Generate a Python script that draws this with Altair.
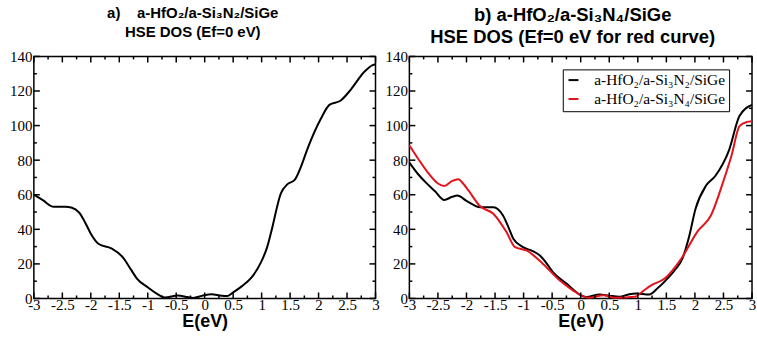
import altair as alt
import pandas as pd

# Panel a: total DOS of a-HfO2/a-Si3N2/SiGe (HSE), energies in eV
E_A = [-3.0, -2.85, -2.65, -2.45, -2.33, -2.2, -2.1, -2.0, -1.86, -1.64, -1.43,
       -1.3, -1.19, -1.0, -0.85, -0.7, -0.47, -0.3, -0.2, -0.05, 0.12, 0.3, 0.4,
       0.5, 0.65, 0.82, 0.99, 1.1, 1.17, 1.34, 1.45, 1.58, 1.7, 1.81, 2.04, 2.19,
       2.39, 2.57, 2.8, 2.95, 3.0]
DOS_A = [60, 57, 53, 53, 52.5, 49.5, 44, 37.5, 31.5, 29, 23.5,
         17, 11.5, 6.5, 3, 0.6, 1.7, 0.8, 0.3, 1.5, 2.5, 1.6, 1.5,
         3.5, 7, 12, 21, 30, 38.7, 61, 66, 68.6, 77, 87, 104, 112,
         114.5, 121, 131, 135, 135.5]

# Panel b: Si3N2 interlayer (black) and Si3N4 interlayer (red)
E_N2 = [-3.0, -2.85, -2.71, -2.55, -2.39, -2.25, -2.16, -2.0, -1.76, -1.53, -1.36,
        -1.25, -1.18, -1.01, -0.85, -0.72, -0.6, -0.49, -0.25, 0.0, 0.1, 0.33, 0.5,
        0.68, 0.85, 0.97, 1.2, 1.35, 1.49, 1.65, 1.78, 1.9, 2.01, 2.19, 2.36, 2.6,
        2.78, 3.0]
DOS_N2 = [78.6, 72, 67, 62, 57, 58.8, 59.5, 56.5, 52.8, 52.8, 48,
          40, 34.5, 29.7, 27.5, 25, 20.5, 15.4, 8.6, 1.9, 0.8, 2.3, 1.6,
          1, 2.5, 2.9, 2.3, 6, 10.5, 16.5, 23, 36, 51.8, 65, 71, 86,
          105.5, 112]
E_N4 = [-3.0, -2.85, -2.68, -2.5, -2.39, -2.25, -2.15, -2.0, -1.76, -1.53, -1.3,
        -1.15, -0.95, -0.66, -0.37, -0.15, 0.0, 0.14, 0.4, 0.6, 0.95, 1.1, 1.24,
        1.47, 1.6, 1.76, 2.05, 2.28, 2.49, 2.64, 2.78, 2.9, 3.0]
DOS_N4 = [88.6, 81, 73, 66.5, 65, 68, 69, 64, 53.3, 49, 38.4,
          29.7, 27.8, 20, 10.5, 5, 1.9, 0.4, 1.9, 0.4, 1, 4.5, 7.7,
          11.5, 16, 23, 39, 48, 67, 82.5, 99.7, 102, 102.5]

SERIES = ["a-HfO₂/a-Si₃N₂/SiGe", "a-HfO₂/a-Si₃N₄/SiGe"]
COLORS = ["#000000", "#e3131b"]

NB = "\u00a0"
TITLE_A = [f"a){NB * 4}a-HfO₂/a-Si₃N₂/SiGe", "HSE DOS (Ef=0 eV)"]
TITLE_B = ["b) a-HfO₂/a-Si₃N₄/SiGe", "HSE DOS (Ef=0 eV for red curve)"]

X_MAJOR = [-3, -2.5, -2, -1.5, -1, -0.5, 0, 0.5, 1, 1.5, 2, 2.5, 3]
X_MINOR = [-2.75, -2.25, -1.75, -1.25, -0.75, -0.25, 0.25, 0.75, 1.25, 1.75, 2.25, 2.75]
Y_MAJOR = [0, 20, 40, 60, 80, 100, 120, 140]
Y_MINOR = [10, 30, 50, 70, 90, 110, 130]

df_a = pd.DataFrame({"E": E_A, "DOS": DOS_A})
df_b = pd.concat([
    pd.DataFrame({"E": E_N2, "DOS": DOS_N2, "system": SERIES[0]}),
    pd.DataFrame({"E": E_N4, "DOS": DOS_N4, "system": SERIES[1]}),
])

W, H = 343, 243
MAJ, MIN = 6, 3  # inward tick lengths in px
x_scale = alt.Scale(domain=[-3, 3], nice=False, zero=False)
y_scale = alt.Scale(domain=[0, 140], nice=False)

x_axis = alt.Axis(values=X_MAJOR, ticks=False, domain=False, grid=False,
                  labelExpr="toString(datum.value)", labelPadding=-1,
                  labelFont="Liberation Serif", labelFontSize=15,
                  labelColor="black", labelOverlap=False, labelFlush=False,
                  title="E(eV)", titleFont="Liberation Sans", titleFontSize=18,
                  titleFontWeight="bold", titleColor="black", titlePadding=0)
y_axis = alt.Axis(values=Y_MAJOR, ticks=False, domain=False, grid=False,
                  labelPadding=2, labelFont="Liberation Serif", labelFontSize=15,
                  labelColor="black", labelOverlap=False, labelFlush=False,
                  title=None)

x_enc = alt.X("E:Q", scale=x_scale, axis=x_axis)
y_enc = alt.Y("DOS:Q", scale=y_scale, axis=y_axis)


def tick_rules(width):
    """Inward ticks on all four sides of the frame."""
    rule = dict(color="black", strokeWidth=1.5)
    layers = []
    for vals, size in ((X_MAJOR, MAJ), (X_MINOR, MIN)):
        d = pd.DataFrame({"E": vals})
        layers.append(alt.Chart(d).mark_rule(**rule).encode(
            x=x_enc, y=alt.value(H), y2=alt.value(H - size)))
        layers.append(alt.Chart(d).mark_rule(**rule).encode(
            x=x_enc, y=alt.value(0), y2=alt.value(size)))
    for vals, size in ((Y_MAJOR, MAJ), (Y_MINOR, MIN)):
        d = pd.DataFrame({"DOS": vals})
        layers.append(alt.Chart(d).mark_rule(**rule).encode(
            y=y_enc, x=alt.value(0), x2=alt.value(size)))
        layers.append(alt.Chart(d).mark_rule(**rule).encode(
            y=y_enc, x=alt.value(width), x2=alt.value(width - size)))
    return layers


curve_a = alt.Chart(df_a).mark_line(
    color="black", strokeWidth=2, interpolate="monotone"
).encode(x=x_enc, y=y_enc, order="E:Q")

panel_a = alt.layer(curve_a, *tick_rules(W)).properties(
    width=W, height=H,
    title=alt.TitleParams(TITLE_A, font="Liberation Sans", fontSize=15,
                          fontWeight="bold", color="black", lineHeight=20,
                          dx=-12, offset=9),
)

curve_b = alt.Chart(df_b).mark_line(strokeWidth=2, interpolate="monotone").encode(
    x=x_enc, y=y_enc, order="E:Q",
    color=alt.Color(
        "system:N",
        scale=alt.Scale(domain=SERIES, range=COLORS),
        legend=alt.Legend(
            title=None, orient="none", legendX=531, legendY=13,
            strokeColor="black", fillColor="white", padding=3,
            symbolType="stroke", symbolSize=100, symbolStrokeWidth=2,
            labelFont="Liberation Serif", labelFontSize=15.5, labelColor="black",
            rowPadding=2, labelOffset=13,
        ),
    ),
)

WB = W + 1
panel_b = alt.layer(curve_b, *tick_rules(WB)).properties(
    width=WB, height=H,
    title=alt.TitleParams(TITLE_B, font="Liberation Sans", fontSize=18.5,
                          fontWeight="bold", color="black", lineHeight=22,
                          dx=-8, offset=3),
)

chart = alt.hconcat(panel_a, panel_b, spacing=3).properties(
    padding={"left": 8, "top": 4, "right": 0, "bottom": 0},
    background="white",
).configure_view(stroke="black", strokeWidth=1.5)

chart.save("out.html", embed_options={"renderer": "svg", "actions": False})
